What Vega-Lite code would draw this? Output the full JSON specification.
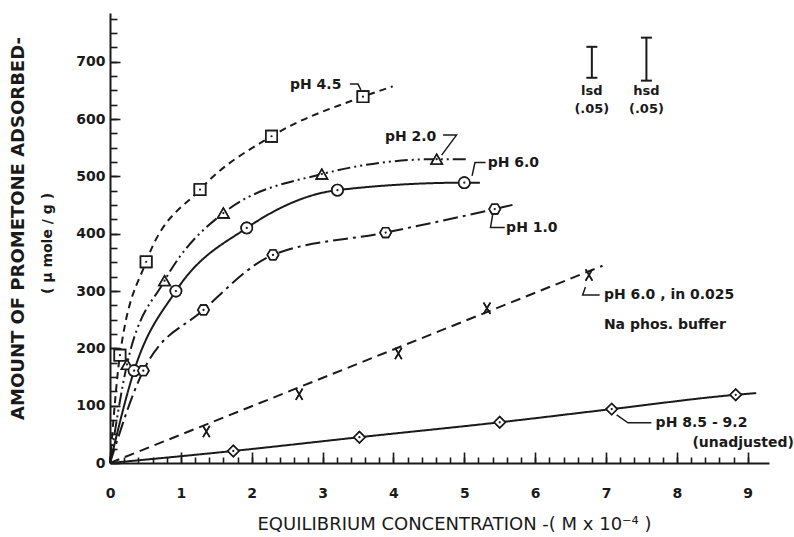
{
  "$schema": "https://vega.github.io/schema/vega-lite/v6.json",
  "width": 659,
  "height": 450,
  "autosize": {"type": "none"},
  "padding": {"left": 110, "top": 13, "right": 25, "bottom": 74},
  "background": "white",
  "config": {
    "view": {"stroke": null},
    "font": "DejaVu Sans",
    "axis": {"grid": false, "ticks": true, "domainColor": "#1a1a1a", "tickColor": "#1a1a1a", "labelColor": "#1a1a1a", "titleColor": "#1a1a1a", "domainWidth": 2, "tickWidth": 1.6}
  },
  "datasets": {
    "curves": [
      {"series": "pH 4.5", "x": 0, "y": 0, "kind": "path"},
      {"series": "pH 4.5", "x": 0.14, "y": 188, "kind": "both"},
      {"series": "pH 4.5", "x": 0.51, "y": 351, "kind": "both"},
      {"series": "pH 4.5", "x": 1.27, "y": 477, "kind": "both"},
      {"series": "pH 4.5", "x": 2.28, "y": 570, "kind": "both"},
      {"series": "pH 4.5", "x": 3.57, "y": 639, "kind": "both"},
      {"series": "pH 4.5", "x": 3.99, "y": 657, "kind": "path"},
      {"series": "pH 2.0", "x": 0, "y": 0, "kind": "path"},
      {"series": "pH 2.0", "x": 0.24, "y": 172, "kind": "both"},
      {"series": "pH 2.0", "x": 0.77, "y": 318, "kind": "both"},
      {"series": "pH 2.0", "x": 1.6, "y": 436, "kind": "both"},
      {"series": "pH 2.0", "x": 2.99, "y": 504, "kind": "both"},
      {"series": "pH 2.0", "x": 4.61, "y": 530, "kind": "both"},
      {"series": "pH 2.0", "x": 5.05, "y": 530, "kind": "path"},
      {"series": "pH 6.0", "x": 0, "y": 0, "kind": "path"},
      {"series": "pH 6.0", "x": 0.34, "y": 161, "kind": "both"},
      {"series": "pH 6.0", "x": 0.93, "y": 300, "kind": "both"},
      {"series": "pH 6.0", "x": 1.93, "y": 410, "kind": "both"},
      {"series": "pH 6.0", "x": 3.21, "y": 476, "kind": "both"},
      {"series": "pH 6.0", "x": 5.0, "y": 489, "kind": "both"},
      {"series": "pH 6.0", "x": 5.22, "y": 489, "kind": "path"},
      {"series": "pH 1.0", "x": 0, "y": 0, "kind": "path"},
      {"series": "pH 1.0", "x": 0.47, "y": 161, "kind": "both"},
      {"series": "pH 1.0", "x": 1.32, "y": 267, "kind": "both"},
      {"series": "pH 1.0", "x": 2.3, "y": 363, "kind": "both"},
      {"series": "pH 1.0", "x": 3.89, "y": 402, "kind": "both"},
      {"series": "pH 1.0", "x": 5.43, "y": 443, "kind": "both"},
      {"series": "pH 1.0", "x": 5.74, "y": 452, "kind": "path"},
      {"series": "pH 6.0 buffer", "x": 0, "y": 0, "kind": "path"},
      {"series": "pH 6.0 buffer", "x": 1.36, "y": 55, "kind": "marker"},
      {"series": "pH 6.0 buffer", "x": 2.67, "y": 120, "kind": "marker"},
      {"series": "pH 6.0 buffer", "x": 4.07, "y": 191, "kind": "marker"},
      {"series": "pH 6.0 buffer", "x": 5.32, "y": 270, "kind": "marker"},
      {"series": "pH 6.0 buffer", "x": 6.76, "y": 328, "kind": "marker"},
      {"series": "pH 6.0 buffer", "x": 6.95, "y": 344, "kind": "path"},
      {"series": "pH 8.5-9.2", "x": 0, "y": 0, "kind": "path"},
      {"series": "pH 8.5-9.2", "x": 1.74, "y": 21, "kind": "both"},
      {"series": "pH 8.5-9.2", "x": 3.52, "y": 45, "kind": "both"},
      {"series": "pH 8.5-9.2", "x": 5.5, "y": 71, "kind": "both"},
      {"series": "pH 8.5-9.2", "x": 7.08, "y": 94, "kind": "both"},
      {"series": "pH 8.5-9.2", "x": 8.83, "y": 119, "kind": "both"},
      {"series": "pH 8.5-9.2", "x": 9.12, "y": 122, "kind": "path"}
    ],
    "leaders": [
      {"seg": "a", "o": 1, "x": 3.385, "y": 661},
      {"seg": "a", "o": 2, "x": 3.5, "y": 661},
      {"seg": "a", "o": 3, "x": 3.54, "y": 651},
      {"seg": "b", "o": 1, "x": 4.7, "y": 572},
      {"seg": "b", "o": 2, "x": 4.89, "y": 572},
      {"seg": "b", "o": 3, "x": 4.68, "y": 537},
      {"seg": "c", "o": 1, "x": 5.3, "y": 524},
      {"seg": "c", "o": 2, "x": 5.15, "y": 524},
      {"seg": "c", "o": 3, "x": 5.11, "y": 501},
      {"seg": "d", "o": 1, "x": 5.57, "y": 411},
      {"seg": "d", "o": 2, "x": 5.37, "y": 411},
      {"seg": "d", "o": 3, "x": 5.4, "y": 433},
      {"seg": "e", "o": 1, "x": 6.91, "y": 293},
      {"seg": "e", "o": 2, "x": 6.67, "y": 293},
      {"seg": "e", "o": 3, "x": 6.71, "y": 307},
      {"seg": "f", "o": 1, "x": 7.64, "y": 70},
      {"seg": "f", "o": 2, "x": 7.31, "y": 70},
      {"seg": "f", "o": 3, "x": 7.15, "y": 84}
    ],
    "labels": [
      {"text": "pH 4.5", "x": 2.54, "y": 660},
      {"text": "pH 2.0", "x": 3.88, "y": 569},
      {"text": "pH 6.0", "x": 5.33, "y": 524},
      {"text": "pH 1.0", "x": 5.59, "y": 410},
      {"text": "pH 6.0 , in 0.025", "x": 6.97, "y": 293},
      {"text": "Na phos. buffer", "x": 6.97, "y": 241},
      {"text": "pH 8.5 - 9.2", "x": 7.7, "y": 70},
      {"text": "(unadjusted)", "x": 8.22, "y": 35}
    ],
    "bars": [
      {"name": "lsd", "x": 6.8, "lo": 672, "hi": 726},
      {"name": "hsd", "x": 7.57, "lo": 667, "hi": 742}
    ],
    "barlabels": [
      {"text": "lsd", "x": 6.8, "y": 649},
      {"text": "(.05)", "x": 6.8, "y": 618},
      {"text": "hsd", "x": 7.57, "y": 649},
      {"text": "(.05)", "x": 7.57, "y": 618}
    ]
  },
  "resolve": {"axis": {"x": "independent", "y": "independent"}},
  "layer": [
    {
      "data": {"name": "curves"},
      "transform": [{"filter": "datum.kind !== 'path'"}],
      "mark": {"type": "point", "size": 125, "fill": "white", "fillOpacity": 1, "stroke": "#1a1a1a", "strokeWidth": 1.6, "opacity": 1},
      "encoding": {
        "x": {"field": "x", "type": "quantitative", "scale": {"domain": [0, 9.3], "nice": false, "zero": false},
          "axis": {"orient": "bottom", "values": [0, 0.2, 0.4, 0.6, 0.8, 1, 1.2, 1.4, 1.6, 1.8, 2, 2.2, 2.4, 2.6, 2.8, 3, 3.2, 3.4, 3.6, 3.8, 4, 4.2, 4.4, 4.6, 4.8, 5, 5.2, 5.4, 5.6, 5.8, 6, 6.2, 6.4, 6.6, 6.8, 7, 7.2, 7.4, 7.6, 7.8, 8, 8.2, 8.4, 8.6, 8.8, 9], "tickSize": -6, "labels": false, "domain": false, "title": null}},
        "y": {"field": "y", "type": "quantitative", "scale": {"domain": [0, 785], "nice": false, "zero": false},
          "axis": {"orient": "left", "values": [0, 25, 50, 75, 100, 125, 150, 175, 200, 225, 250, 275, 300, 325, 350, 375, 400, 425, 450, 475, 500, 525, 550, 575, 600, 625, 650, 675, 700, 725, 750, 775], "tickSize": -7, "labels": false, "domain": false,
            "title": "( μ mole / g )", "titleFontSize": 14, "titleFontWeight": "bold", "titleX": -63, "titleY": 230, "titleBaseline": "middle", "titleAlign": "center", "titleAngle": -90}},
        "shape": {"field": "series", "type": "nominal", "legend": null,
          "scale": {"domain": ["pH 4.5", "pH 2.0", "pH 6.0", "pH 1.0", "pH 6.0 buffer", "pH 8.5-9.2"],
            "range": ["square", "triangle-up", "circle", "M-1,0L-0.5,-0.866L0.5,-0.866L1,0L0.5,0.866L-0.5,0.866Z", "M-0.6,-1L0.6,1M0.6,-1L-0.6,1", "diamond"]}}
      }
    },
    {
      "data": {"name": "curves"},
      "transform": [{"filter": "datum.kind !== 'marker'"}],
      "mark": {"type": "line", "interpolate": "monotone", "strokeWidth": 2, "color": "#1a1a1a"},
      "encoding": {
        "x": {"field": "x", "type": "quantitative", "scale": {"domain": [0, 9.3], "nice": false, "zero": false},
          "axis": {"orient": "bottom", "values": [0, 1, 2, 3, 4, 5, 6, 7, 8, 9], "tickSize": -11, "labelFontSize": 14, "labelFontWeight": "bold", "labelPadding": 34, "labelFlush": false, "labelOverlap": false,
            "title": "EQUILIBRIUM  CONCENTRATION -( M x 10⁻⁴ )", "titleFontSize": 18, "titleFontWeight": "normal", "titlePadding": 15, "titleX": 344}},
        "y": {"field": "y", "type": "quantitative", "scale": {"domain": [0, 785], "nice": false, "zero": false},
          "axis": {"orient": "left", "values": [0, 100, 200, 300, 400, 500, 600, 700], "tickSize": -10, "labelFontSize": 14, "labelFontWeight": "bold", "labelPadding": 15, "labelFlush": false, "labelOverlap": false,
            "title": "AMOUNT  OF  PROMETONE  ADSORBED-", "titleFontSize": 18, "titleFontWeight": "bold", "titleX": -92, "titleY": 215, "titleBaseline": "middle", "titleAlign": "center", "titleAngle": -90}},
        "strokeDash": {"field": "series", "type": "nominal", "legend": null,
          "scale": {"domain": ["pH 4.5", "pH 2.0", "pH 6.0", "pH 1.0", "pH 6.0 buffer", "pH 8.5-9.2"],
            "range": [[7, 5], [13, 4, 2, 4, 2, 4], [1, 0], [15, 5, 3, 5], [10, 6], [1, 0]]}}
      }
    },
    {
      "data": {"name": "curves"},
      "transform": [{"filter": "datum.kind !== 'path'"}],
      "mark": {"type": "point", "size": 125, "fill": "white", "fillOpacity": 1, "stroke": "#1a1a1a", "strokeWidth": 1.6, "opacity": 1},
      "encoding": {
        "x": {"field": "x", "type": "quantitative", "scale": {"domain": [0, 9.3], "nice": false, "zero": false}, "axis": null},
        "y": {"field": "y", "type": "quantitative", "scale": {"domain": [0, 785], "nice": false, "zero": false}, "axis": null},
        "shape": {"field": "series", "type": "nominal", "legend": null,
          "scale": {"domain": ["pH 4.5", "pH 2.0", "pH 6.0", "pH 1.0", "pH 6.0 buffer", "pH 8.5-9.2"],
            "range": ["square", "triangle-up", "circle", "M-1,0L-0.5,-0.866L0.5,-0.866L1,0L0.5,0.866L-0.5,0.866Z", "M-0.6,-1L0.6,1M0.6,-1L-0.6,1", "diamond"]}}
      }
    },
    {
      "data": {"name": "curves"},
      "transform": [{"filter": "datum.kind !== 'path' && datum.series !== 'pH 6.0 buffer'"}],
      "mark": {"type": "point", "shape": "circle", "size": 5, "filled": true, "color": "#1a1a1a", "opacity": 1},
      "encoding": {
        "x": {"field": "x", "type": "quantitative", "scale": {"domain": [0, 9.3], "nice": false, "zero": false}, "axis": null},
        "y": {"field": "y", "type": "quantitative", "scale": {"domain": [0, 785], "nice": false, "zero": false}, "axis": null}
      }
    },
    {
      "data": {"name": "leaders"},
      "mark": {"type": "line", "strokeWidth": 1.5, "color": "#1a1a1a"},
      "encoding": {
        "x": {"field": "x", "type": "quantitative", "scale": {"domain": [0, 9.3], "nice": false, "zero": false}, "axis": null},
        "y": {"field": "y", "type": "quantitative", "scale": {"domain": [0, 785], "nice": false, "zero": false}, "axis": null},
        "detail": {"field": "seg", "type": "nominal"},
        "order": {"field": "o", "type": "quantitative"}
      }
    },
    {
      "data": {"name": "labels"},
      "mark": {"type": "text", "align": "left", "baseline": "middle", "fontSize": 14, "fontWeight": "bold", "color": "#1a1a1a"},
      "encoding": {
        "x": {"field": "x", "type": "quantitative", "scale": {"domain": [0, 9.3], "nice": false, "zero": false}, "axis": null},
        "y": {"field": "y", "type": "quantitative", "scale": {"domain": [0, 785], "nice": false, "zero": false}, "axis": null},
        "text": {"field": "text", "type": "nominal"}
      }
    },
    {
      "data": {"name": "bars"},
      "mark": {"type": "rule", "strokeWidth": 2, "color": "#1a1a1a"},
      "encoding": {
        "x": {"field": "x", "type": "quantitative", "scale": {"domain": [0, 9.3], "nice": false, "zero": false}, "axis": null},
        "y": {"field": "lo", "type": "quantitative", "scale": {"domain": [0, 785], "nice": false, "zero": false}, "axis": null},
        "y2": {"field": "hi"}
      }
    },
    {
      "data": {"name": "bars"},
      "transform": [{"fold": ["lo", "hi"], "as": ["end", "val"]}],
      "mark": {"type": "tick", "orient": "horizontal", "size": 11, "thickness": 2, "color": "#1a1a1a", "opacity": 1},
      "encoding": {
        "x": {"field": "x", "type": "quantitative", "scale": {"domain": [0, 9.3], "nice": false, "zero": false}, "axis": null},
        "y": {"field": "val", "type": "quantitative", "scale": {"domain": [0, 785], "nice": false, "zero": false}, "axis": null}
      }
    },
    {
      "data": {"name": "barlabels"},
      "mark": {"type": "text", "align": "center", "baseline": "middle", "fontSize": 13, "fontWeight": "bold", "color": "#1a1a1a"},
      "encoding": {
        "x": {"field": "x", "type": "quantitative", "scale": {"domain": [0, 9.3], "nice": false, "zero": false}, "axis": null},
        "y": {"field": "y", "type": "quantitative", "scale": {"domain": [0, 785], "nice": false, "zero": false}, "axis": null},
        "text": {"field": "text", "type": "nominal"}
      }
    }
  ]
}
